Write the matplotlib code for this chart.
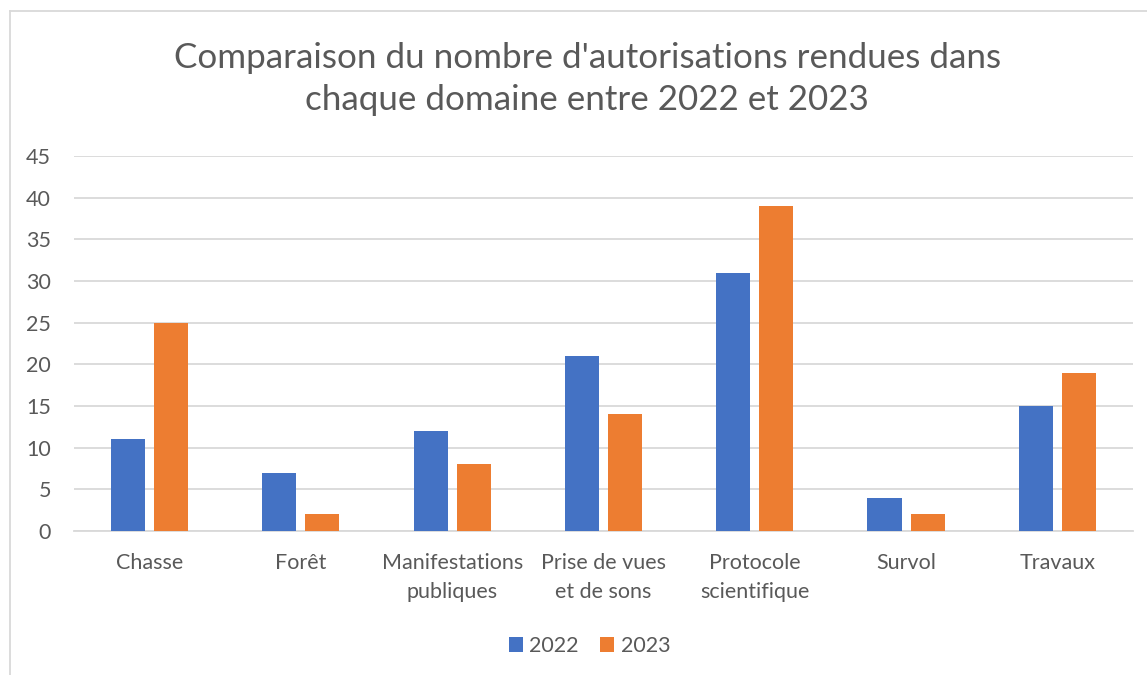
import matplotlib.pyplot as plt
import numpy as np
from matplotlib.lines import Line2D

plt.rcParams['font.family'] = ['Lato', 'DejaVu Sans']

# data
categories = ["Chasse", "Forêt", "Manifestations\npubliques", "Prise de vues\net de sons",
              "Protocole\nscientifique", "Survol", "Travaux"]
values_2022 = [11, 7, 12, 21, 31, 4, 15]
values_2023 = [25, 2, 8, 14, 39, 2, 19]
series_names = ["2022", "2023"]
yticks = [0, 5, 10, 15, 20, 25, 30, 35, 40, 45]

blue = "#4472C4"
orange = "#ED7D31"
grey_text = "#595959"
grid_col = "#D9D9D9"

fig = plt.figure(figsize=(11.47, 6.75), dpi=100)
ax = fig.add_axes([0.0645, 0.2133, 0.9233, 0.5556])

x = np.arange(len(categories))
w = 0.225
off = 0.1425
ax.bar(x - off, values_2022, w, color=blue, label=series_names[0], zorder=3)
ax.bar(x + off, values_2023, w, color=orange, label=series_names[1], zorder=3)

ax.set_xlim(-0.5, len(categories) - 0.5)
ax.set_ylim(0, 45)
ax.set_yticks(yticks)
ax.yaxis.grid(True, color=grid_col, linewidth=1.3, zorder=0)
ax.set_xticks(x)
ax.set_xticklabels(categories, fontsize=15.5, color=grey_text, linespacing=1.62)
ax.tick_params(axis='y', labelsize=15.5, labelcolor=grey_text, length=0, pad=16.5)
ax.tick_params(axis='x', length=0, pad=15.5)
for s in ["top", "right", "left"]:
    ax.spines[s].set_visible(False)
ax.spines["bottom"].set_color(grid_col)
ax.spines["bottom"].set_linewidth(1.3)

fig.text(0.512, 0.883, "Comparaison du nombre d'autorisations rendues dans\nchaque domaine entre 2022 et 2023",
         ha="center", va="center", fontsize=25.2, color=grey_text, linespacing=1.4)

ax.legend(loc="center", bbox_to_anchor=(0.514, 0.043), bbox_transform=fig.transFigure,
          ncol=2, frameon=False, fontsize=15.5, labelcolor=grey_text,
          handlelength=0.65, handleheight=0.65, handletextpad=0.3, columnspacing=1.0)

# chart frame (only left and top edges visible in the reference crop)
fig.add_artist(Line2D([10 / 1147, 10 / 1147], [0, 1 - 11 / 675], color=grid_col, linewidth=1.3,
                      transform=fig.transFigure))
fig.add_artist(Line2D([10 / 1147, 1], [1 - 11 / 675, 1 - 11 / 675], color=grid_col, linewidth=1.3,
                      transform=fig.transFigure))

fig.savefig("out.png", dpi=100)
